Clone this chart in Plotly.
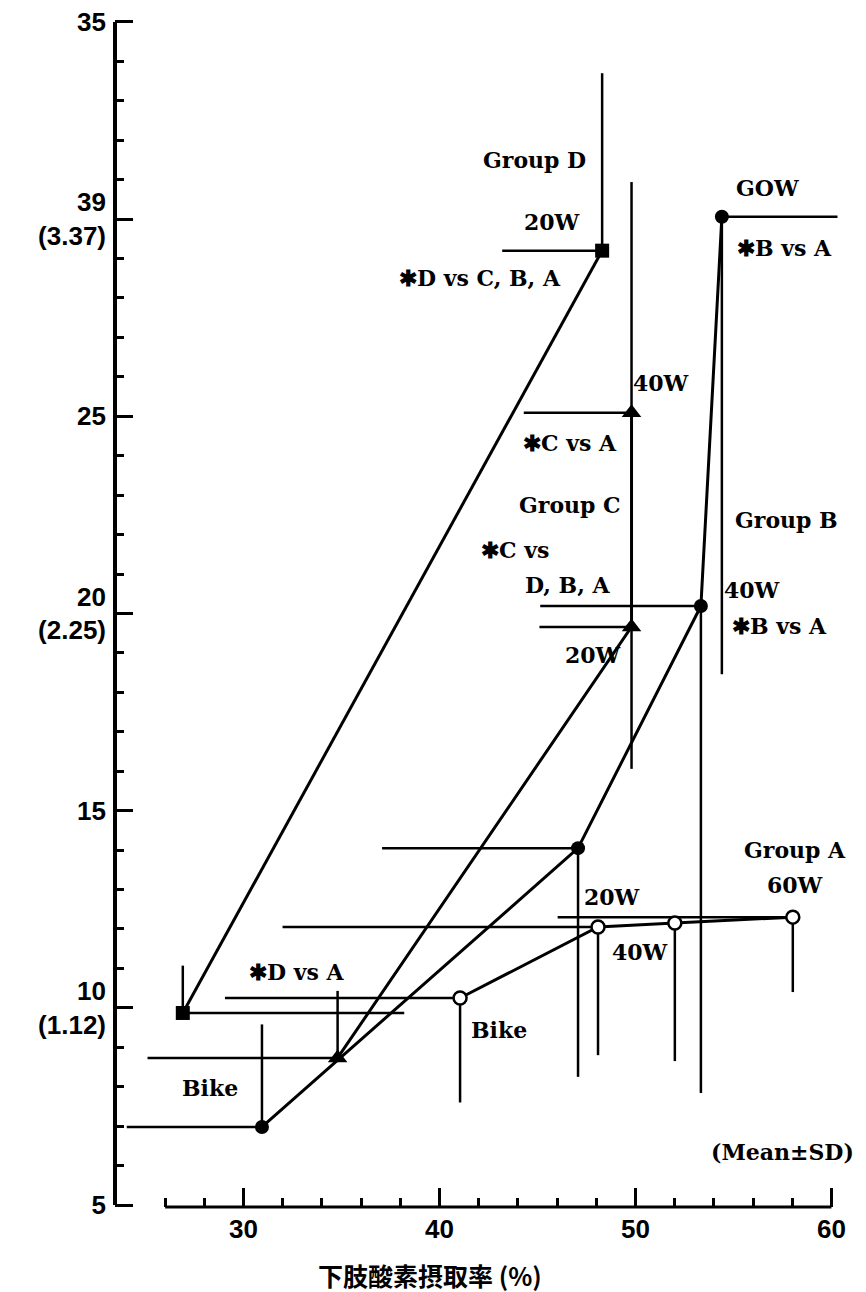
import plotly.graph_objects as go

# Mean values (x: leg O2 extraction %, y: VO2) and one-sided SD bars per group
# Stages: Bike, 20W, 40W, 60W
d_x = [26.9, 48.3]
d_y = [9.87, 29.2]
d_xsd_plus = [11.3, 0]
d_xsd_minus = [0, 5.1]
d_ysd_plus = [1.2, 4.5]
d_ysd_minus = [0, 0]

c_x = [34.8, 49.8, 49.8]
c_y = [8.73, 19.66, 25.09]
c_xsd_plus = [0, 0, 0]
c_xsd_minus = [9.7, 4.7, 5.5]
c_ysd_plus = [1.7, 0, 5.85]
c_ysd_minus = [0, 3.6, 0]

b_x = [30.94, 47.07, 53.34, 54.41]
b_y = [6.98, 14.05, 20.19, 30.06]
b_xsd_plus = [0, 0, 0, 5.9]
b_xsd_minus = [6.9, 10.0, 8.2, 0]
b_ysd_plus = [2.6, 0, 0, 0]
b_ysd_minus = [0, 5.8, 12.35, 11.6]

a_x = [41.05, 48.09, 52.01, 58.03]
a_y = [10.25, 12.05, 12.15, 12.3]
a_xsd_plus = [0, 0, 0, 0]
a_xsd_minus = [12.0, 16.1, 0, 12.0]
a_ysd_plus = [0, 0, 0, 0]
a_ysd_minus = [2.65, 3.25, 3.5, 1.9]

y_tickvals = [5, 10, 15, 20, 25, 30, 35]
y_ticktext = ["5", "10<br>(1.12)", "15", "20<br>(2.25)", "25", "39<br>(3.37)", "35"]
x_tickvals = [30, 40, 50, 60]
x_minor_vals = [26, 28, 32, 34, 36, 38, 42, 44, 46, 48, 52, 54, 56, 58]

labels = [
    ("Group D", 44.87, 31.5),
    ("20W", 45.74, 29.93),
    ("✱D vs C, B, A", 42.07, 28.51),
    ("GOW", 56.76, 30.79),
    ("✱B vs A", 57.63, 29.27),
    ("40W", 51.3, 25.85),
    ("✱C vs A", 46.66, 24.33),
    ("Group C", 46.66, 22.75),
    ("Group B", 57.73, 22.37),
    ("✱C vs", 43.85, 21.61),
    ("D, B, A", 46.56, 20.72),
    ("40W", 55.94, 20.6),
    ("✱B vs A", 57.37, 19.68),
    ("20W", 47.83, 18.95),
    ("Group A", 58.14, 14.0),
    ("60W", 58.14, 13.12),
    ("20W", 48.8, 12.81),
    ("40W", 50.23, 11.42),
    ("✱D vs A", 32.73, 10.91),
    ("Bike", 43.03, 9.44),
    ("Bike", 28.29, 7.97),
    ("(Mean±SD)", 57.48, 6.34),
]

INK = "black"


def err(plus, minus):
    return dict(type="data", symmetric=False, array=plus, arrayminus=minus,
                width=0, thickness=2.5, color=INK)


groups = [
    (d_x, d_y, d_xsd_plus, d_xsd_minus, d_ysd_plus, d_ysd_minus,
     dict(symbol="square", size=14, color=INK)),
    (c_x, c_y, c_xsd_plus, c_xsd_minus, c_ysd_plus, c_ysd_minus,
     dict(symbol="triangle-up", size=17, color=INK)),
    (b_x, b_y, b_xsd_plus, b_xsd_minus, b_ysd_plus, b_ysd_minus,
     dict(symbol="circle", size=14, color=INK)),
    (a_x, a_y, a_xsd_plus, a_xsd_minus, a_ysd_plus, a_ysd_minus,
     dict(symbol="circle", size=13, color="white", line=dict(color=INK, width=2.5))),
]

fig = go.Figure()
for gx, gy, xp, xm, yp, ym, mk in groups:
    fig.add_trace(go.Scatter(
        x=gx, y=gy, mode="lines+markers",
        line=dict(color=INK, width=3),
        marker=mk,
        error_x=err(xp, xm),
        error_y=err(yp, ym),
        cliponaxis=False,
        showlegend=False,
    ))

for text, tx, ty in labels:
    fig.add_annotation(x=tx, y=ty, xref="x", yref="y", text=text, showarrow=False,
                       font=dict(family="DejaVu Serif", size=22, color=INK, weight="bold"),
                       xanchor="center", yanchor="middle")

# x-axis title
fig.add_annotation(x=39.5, y=0, xref="x", yref="paper", yanchor="middle", yshift=-68,
                   text="下肢酸素摂取率 (%)", showarrow=False,
                   font=dict(family="Noto Sans CJK JP", size=25, color=INK, weight="bold"))

# axis lines
fig.add_shape(type="line", xref="paper", yref="y", x0=0, x1=0, y0=5, y1=35,
              line=dict(color=INK, width=4))
fig.add_shape(type="line", xref="x", yref="paper", x0=26, x1=60, y0=0, y1=0,
              line=dict(color=INK, width=3))

tick_font = dict(family="Liberation Sans", size=26, color=INK, weight="bold")

fig.update_layout(
    width=866, height=1292, autosize=False,
    margin=dict(l=115, r=15, t=3, b=85, pad=0),
    plot_bgcolor="white", paper_bgcolor="white",
    xaxis=dict(range=[23.44, 61.0], showgrid=False, zeroline=False, showline=False,
               tickmode="array", tickvals=x_tickvals, ticks="inside", ticklen=19,
               tickwidth=2.5, tickcolor=INK, tickfont=tick_font, ticklabelstandoff=4,
               automargin=False,
               minor=dict(tickmode="array", tickvals=x_minor_vals, ticks="inside",
                          ticklen=9, tickwidth=2.5, tickcolor=INK, showgrid=False)),
    yaxis=dict(range=[4.95, 35.48], showgrid=False, zeroline=False, showline=False,
               tickmode="array", tickvals=y_tickvals, ticktext=y_ticktext,
               ticks="inside", ticklen=18, tickwidth=2.5, tickcolor=INK,
               tickfont=tick_font, ticklabelstandoff=8, automargin=False,
               minor=dict(tick0=5, dtick=1, ticks="inside", ticklen=9, tickwidth=2.5,
                          tickcolor=INK, showgrid=False)),
)

fig.write_html("out.html")
